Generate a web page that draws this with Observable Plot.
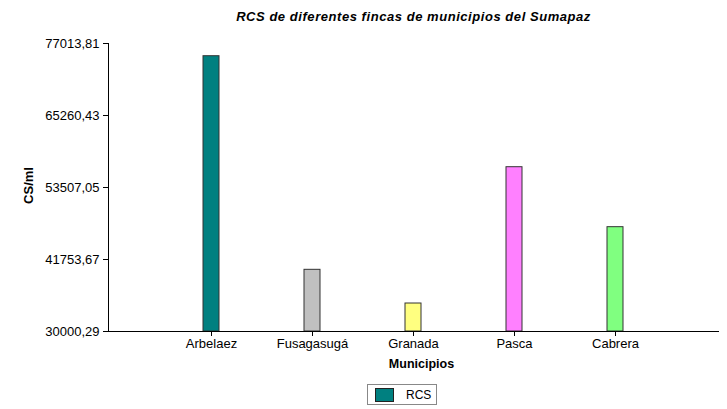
<!DOCTYPE html>
<html>
<head>
<meta charset="utf-8">
<script src="https://cdn.jsdelivr.net/npm/d3@7"></script>
<script src="https://cdn.jsdelivr.net/npm/@observablehq/plot@0.6"></script>
<style>
  body { margin: 0; background: #fff; font-family: "Liberation Sans", Arial, sans-serif; }
  #wrap { position: relative; width: 727px; height: 409px; }
  #title { position: absolute; left: 0; width: 827px; top: 9px; text-align: center; line-height: 16px;
           font-weight: bold; font-style: italic; font-size: 13px; color: #000; letter-spacing: 0.55px; }
  #legend { position: absolute; left: 367px; top: 384px; width: 70px; height: 21px;
            border: 1px solid #888; box-sizing: border-box; font-size: 12px; }
  #legend .sw { position: absolute; left: 7px; top: 3px; width: 19px; height: 14px;
                background: #008080; border: 1px solid #222; box-sizing: border-box; }
  #legend .lb { position: absolute; left: 38px; top: 3px; }
</style>
</head>
<body>
<div id="wrap">
  <div id="title">RCS de diferentes fincas de municipios del Sumapaz</div>
  <div id="legend"><div class="sw"></div><div class="lb">RCS</div></div>
</div>
<script>
const municipios = ["Arbelaez", "Fusagasugá", "Granada", "Pasca", "Cabrera"];
const rcs = [74940, 40070, 34570, 56820, 47030];
const colores = ["#008080", "#C0C0C0", "#FFFF80", "#FF80FF", "#80FF80"];
const yTicks = [30000.29, 41753.67, 53507.05, 65260.43, 77013.81];

const data = municipios.map((m, i) => ({ municipio: m, rcs: rcs[i] }));
const base = yTicks[0];

const chart = Plot.plot({
  width: 727,
  height: 409,
  marginLeft: 108,
  marginRight: 9,
  marginTop: 43,
  marginBottom: 78,
  style: { fontFamily: "Liberation Sans, Arial, sans-serif", fontSize: "13px", color: "#000", background: "transparent" },
  x: { domain: municipios, paddingInner: 0.843, paddingOuter: 0.9215, label: null },
  y: { domain: [yTicks[0], yTicks[yTicks.length - 1]], label: null },
  color: { domain: municipios, range: colores },
  marks: [
    Plot.barY(data, { x: "municipio", y1: base, y2: "rcs", fill: "municipio", stroke: "#333", strokeWidth: 1 }),
    Plot.frame({ anchor: "left", stroke: "#000" }),
    Plot.frame({ anchor: "bottom", stroke: "#000" }),
    Plot.axisY({ ticks: yTicks, tickFormat: d => d.toFixed(2).replace(".", ","), tickSize: 5, tickPadding: 4, fontSize: 13, label: null }),
    Plot.axisX({ tickSize: 5, tickPadding: 2, fontSize: 13, label: null }),
    Plot.text(["Municipios"], { frameAnchor: "bottom", dy: 36, dx: 8, fontWeight: "bold", fontSize: 12.5, textAnchor: "middle" }),
    Plot.text(["CS/ml"], { frameAnchor: "left", dx: -80, dy: -2, rotate: -90, textAnchor: "middle", fontWeight: "bold", fontSize: 13 })
  ]
});
const wrap = document.getElementById("wrap");
chart.style.position = "absolute";
chart.style.left = "0";
chart.style.top = "0";
wrap.insertBefore(chart, wrap.firstChild);
</script>
</body>
</html>
